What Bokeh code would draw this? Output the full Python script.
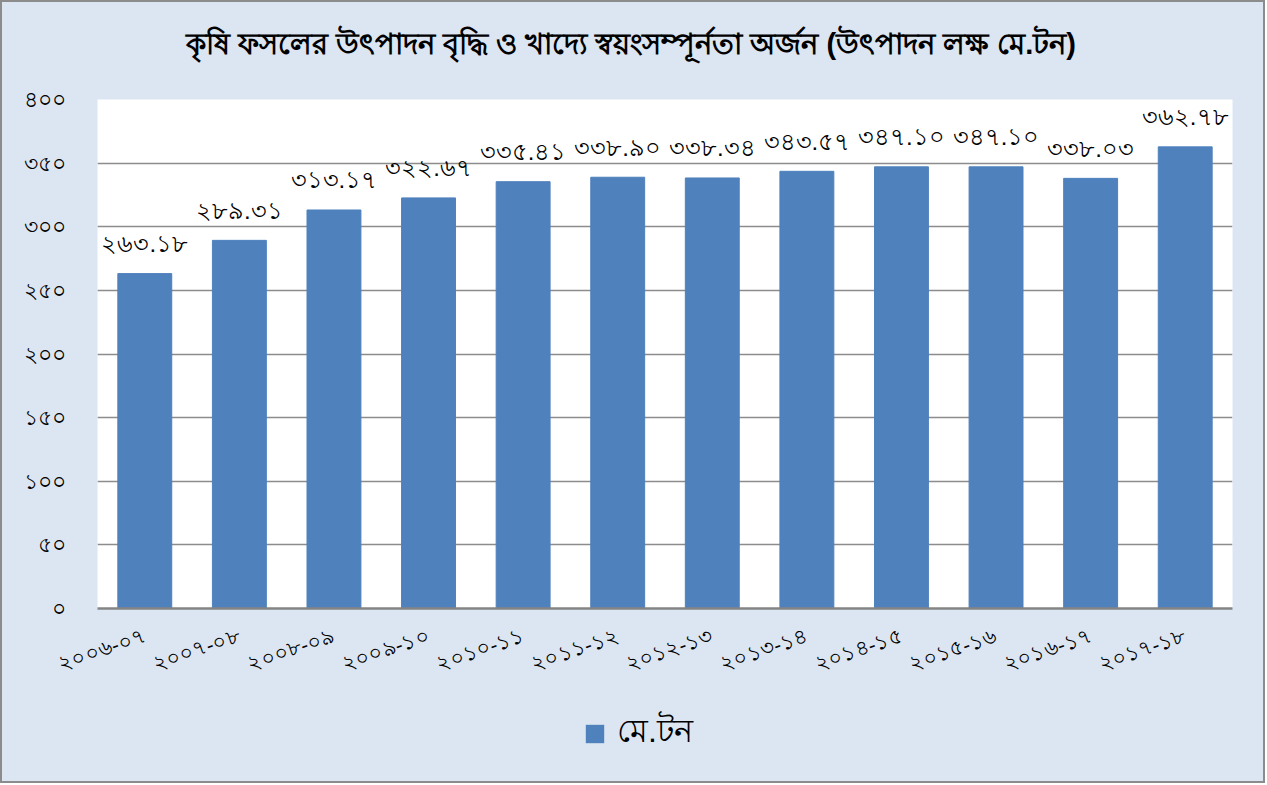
from bokeh.plotting import figure
from bokeh.layouts import column
from bokeh.models import ColumnDataSource, FixedTicker, Legend, LegendItem
from bokeh.embed import file_html
from bokeh.resources import INLINE

# ---- data ----
years = ["২০০৬-০৭", "২০০৭-০৮", "২০০৮-০৯", "২০০৯-১০", "২০১০-১১", "২০১১-১২",
         "২০১২-১৩", "২০১৩-১৪", "২০১৪-১৫", "২০১৫-১৬", "২০১৬-১৭", "২০১৭-১৮"]
production = [263.18, 289.31, 313.17, 322.67, 335.41, 338.90,
              338.34, 343.57, 347.10, 347.10, 338.03, 362.78]
y_ticks = [0, 50, 100, 150, 200, 250, 300, 350, 400]
title_text = "কৃষি ফসলের উৎপাদন বৃদ্ধি ও খাদ্যে স্বয়ংসম্পূর্নতা অর্জন (উৎপাদন লক্ষ মে.টন)"
series_name = "মে.টন"

BN = str.maketrans("0123456789", "০১২৩৪৫৬৭৮৯")
def bn(s):
    return str(s).translate(BN)

labels = [bn(f"{v:.2f}") for v in production]
src = ColumnDataSource(dict(year=years, value=production, label=labels))

BG = "#DCE6F2"
BAR = "#4F81BD"
EDGE = "#8C8C8C"
B = 2  # outer border width
W = 1261
HT, H1, H2 = 62, 626, 91          # title strip, chart, legend strip
FL, FR = 97 - B, 1232 - B         # frame left / right inside the bordered box
FT, FB = 99 - B - HT, 608 - B - HT  # frame top / bottom inside the chart figure

# ---- title strip ----
tf = figure(width=W, height=HT, x_range=(FL, FR), y_range=(0, HT),
            x_axis_location=None, y_axis_location=None,
            output_backend="svg", toolbar_location=None, min_border=0,
            background_fill_color=BG, border_fill_color=BG, outline_line_color=None)
tf.grid.visible = False
tf.text(x=[W / 2 - 2], y=[HT - 41], text=[title_text], text_align="center",
        text_baseline="middle", text_font_size="29px", text_font_style="bold",
        text_color="black")

# ---- chart ----
p = figure(x_range=years, y_range=(0, 400), width=W, height=H1,
           output_backend="svg", toolbar_location=None,
           min_border_left=FL, min_border_right=W - FR, min_border_top=FT,
           min_border_bottom=H1 - FB,
           background_fill_color="white", border_fill_color=BG,
           outline_line_color=None)

bars = p.vbar(x="year", top="value", width=0.57, source=src,
              fill_color=BAR, line_color=BAR)

p.text(x="year", y="value", text="label", source=src, y_offset=-30,
       text_align="center", text_baseline="middle", text_font_size="24px",
       text_color="black")

p.yaxis.ticker = FixedTicker(ticks=y_ticks)
p.yaxis.major_label_overrides = {t: bn(t) for t in y_ticks}
p.yaxis.axis_line_color = None
p.yaxis.major_tick_line_color = None
p.yaxis.minor_tick_line_color = None
p.yaxis.major_tick_out = 0
p.yaxis.major_label_standoff = 32
p.yaxis.major_label_text_font_size = "22px"
p.yaxis.major_label_text_color = "black"

p.xaxis.major_label_orientation = 0.33
p.xaxis.major_tick_line_color = None
p.xaxis.major_tick_out = 0
p.xaxis.axis_line_color = "#848484"
p.xaxis.axis_line_width = 2.5
p.xaxis.major_label_text_font_size = "21px"
p.xaxis.major_label_text_color = "black"
p.xaxis.major_label_standoff = 26

p.xgrid.visible = False
p.ygrid.grid_line_color = EDGE
p.ygrid.grid_line_width = 1.5

# ---- legend strip ----
lf = figure(width=W, height=H2, x_range=(0, 1), y_range=(0, 1),
            x_axis_location=None, y_axis_location=None,
            output_backend="svg", toolbar_location=None, min_border=0,
            background_fill_color=BG, border_fill_color=BG, outline_line_color=None)
lf.grid.visible = False
# zero-height key renderer: only its legend swatch is visible
key = lf.vbar(x=[0.5], top=[0], bottom=[0], width=0.5, fill_color=BAR, line_color=None)
legend = Legend(items=[LegendItem(label=series_name, renderers=[key])],
                location=(583 - 97, 21), orientation="horizontal",
                background_fill_alpha=0, border_line_color=None,
                label_text_font_size="32px", label_text_color="black",
                glyph_width=23, glyph_height=23,
                padding=0, margin=0, label_standoff=11)
lf.add_layout(legend)

layout = column(tf, p, lf, spacing=0,
                styles={"border": f"{B}px solid {EDGE}", "background-color": BG})
open("out.html", "w").write(file_html(layout, INLINE))
